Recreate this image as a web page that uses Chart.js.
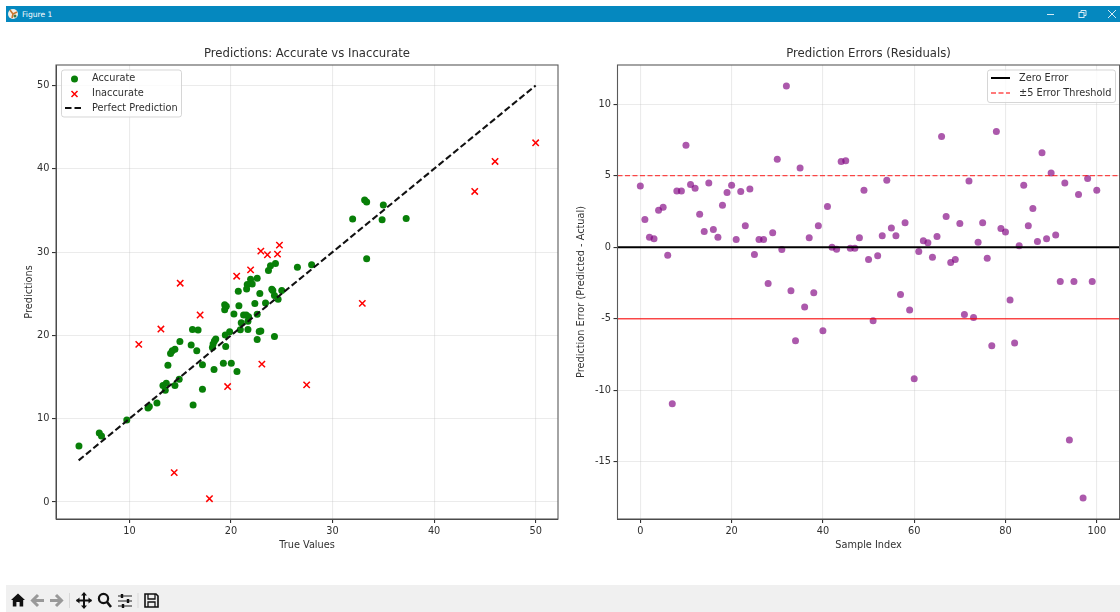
<!DOCTYPE html>
<html>
<head>
<meta charset="utf-8">
<title>Figure 1</title>
<script src="https://cdn.jsdelivr.net/npm/chart.js@4"></script>
<style>
  html, body { margin: 0; padding: 0; background: #fff; width: 1120px; height: 612px; overflow: hidden; font-family: "DejaVu Sans", sans-serif; }
  #titlebar { position: absolute; left: 6px; top: 6px; width: 1114px; height: 16px; background: #0588bf; color: #fff; font-size: 7.6px; line-height: 17px; }
  #titlebar span { position: absolute; left: 16px; }
  #titlebar svg { position: absolute; top: 0; }
  #toolbar { position: absolute; left: 6px; top: 585px; width: 1114px; height: 27px; background: #f0f0f0; }
  #toolbar svg { position: absolute; left: 0; top: 1px; }
  canvas { position: absolute; }
  #left { left: 0; top: 40px; }
  #right { left: 564px; top: 40px; }
</style>
</head>
<body>
<div id="titlebar">
  <svg style="left:1px" width="13" height="16"><circle cx="6" cy="8" r="5" fill="#f4efe6"/><path d="M6 8L3 4M6 8L10 6M6 8L5 12" stroke="#c9762e" stroke-width="1.6"/><circle cx="8" cy="10" r="1.5" fill="#3d7a4a"/></svg>
  <span>Figure 1</span>
  <svg style="left:1040px" width="74" height="16" fill="none" stroke="#d5eaf4" stroke-width="1"><path d="M1 8.5H8"/><rect x="33" y="6.5" width="5" height="5"/><path d="M35 6.5V4.5H40V9.5H38"/><path d="M62 4L70 12M70 4L62 12"/></svg>
</div>
<canvas id="left" width="564" height="515"></canvas>
<canvas id="right" width="556" height="515"></canvas>
<div id="toolbar">
  <svg width="160" height="27">
    <path d="M5 14L12 7.5L19 14L17.2 14L17.2 20.5L13.6 20.5L13.6 16L10.4 16L10.4 20.5L6.8 20.5L6.8 14Z" fill="#111"/>
    <path d="M38 14.5H27M32 9L26.5 14.5L32 20" fill="none" stroke="#999" stroke-width="3"/>
    <path d="M44 14.5H55M50 9L55.5 14.5L50 20" fill="none" stroke="#999" stroke-width="3"/>
    <path d="M63.5 7V22M132 7V22" stroke="#d8d8d8" stroke-width="1"/>
    <path d="M78 7V22M70.5 14.5H85.5" stroke="#111" stroke-width="2"/>
    <path d="M78 6L75 9.5H81ZM78 23L75 19.5H81ZM70 14.5L73.5 11.5V17.5ZM86 14.5L82.5 11.5V17.5Z" fill="#111"/>
    <circle cx="97.5" cy="12.5" r="4.6" fill="none" stroke="#111" stroke-width="2.2"/>
    <path d="M101 16L105 21" stroke="#111" stroke-width="2.6"/>
    <path d="M112 10H126M112 15H126M112 20H126" stroke="#222" stroke-width="1.2"/>
    <path d="M116 8V12M122 13V17M117 18V22" stroke="#111" stroke-width="2.4"/>
    <path d="M139 8H150L152 10V21H139Z" fill="none" stroke="#111" stroke-width="1.6"/>
    <path d="M142 8V13H149V8M142 21V16H149V21" fill="none" stroke="#111" stroke-width="1.3"/>
  </svg>
</div>
<script>
// values
const accurateX = [26.54, 27.94, 24.38, 23.89, 23.69, 22.58, 21.93, 22.09, 21.6, 21.54, 20.72, 22.84, 24.02, 24.12, 25.0, 24.28, 24.64, 23.4, 22.35, 20.78, 19.38, 19.54, 19.38, 20.29, 21.24, 21.5, 21.73, 22.58, 21.01, 21.67, 16.21, 16.76, 19.87, 19.44, 20.92, 21.67, 22.94, 22.78, 22.58, 24.28, 14.97, 16.08, 18.5, 18.37, 18.24, 18.17, 19.48, 16.63, 14.48, 14.22, 14.05, 13.79, 17.19, 19.25, 20.03, 18.33, 20.59, 5.03, 7.03, 7.25, 9.74, 11.83, 11.96, 12.71, 13.53, 13.3, 13.63, 14.48, 14.9, 17.19, 16.27, 31.98, 33.16, 33.36, 35.0, 34.88, 37.25, 33.36];
const accurateY = [28.19, 28.47, 28.63, 28.35, 27.79, 26.87, 26.75, 26.18, 26.1, 25.58, 25.3, 25.02, 25.54, 25.38, 25.38, 24.78, 24.34, 23.9, 23.82, 23.57, 23.69, 23.49, 23.09, 22.57, 22.45, 22.45, 22.25, 22.53, 21.53, 21.69, 20.72, 20.64, 20.44, 20.04, 20.68, 20.72, 20.52, 20.48, 19.52, 19.88, 19.28, 18.84, 19.56, 19.32, 18.96, 18.55, 18.67, 18.15, 18.35, 18.15, 17.83, 16.43, 16.47, 16.67, 16.67, 15.9, 15.66, 6.71, 8.27, 7.91, 9.84, 11.29, 11.45, 11.89, 13.41, 13.98, 14.26, 13.98, 14.74, 13.53, 11.65, 33.96, 36.24, 36, 35.64, 33.88, 34.04, 29.2];
const inaccurateX = [10.92, 13.1, 15, 16.96, 20.56, 21.93, 22.94, 23.59, 24.58, 24.77, 23.04, 14.41, 17.88, 19.67, 27.45, 32.93, 44, 46, 50];
const inaccurateY = [18.92, 20.76, 26.27, 22.45, 27.11, 27.87, 30.12, 29.68, 29.76, 30.84, 16.55, 3.53, 0.4, 13.86, 14.06, 23.84, 37.28, 40.88, 43.12];
const perfectX = [5, 50];
const perfectY = [5, 50];

const residuals = [4.28, 1.93, 0.7, 0.58, 2.58, 2.79, -0.56, -10.94, 3.93, 3.93, 7.12, 4.38, 4.12, 2.3, 1.09, 4.49, 1.23, 0.7, 2.93, 3.82, 4.33, 0.54, 3.89, 1.49, 4.07, -0.51, 0.54, 0.54, -2.54, 1.0, 6.15, -0.16, 11.27, -3.05, -6.54, 5.54, -4.19, 0.65, -3.19, 1.49, -5.84, 2.84, 0, -0.14, 5.98, 6.03, -0.07, -0.07, 0.65, 3.98, -0.86, -5.14, -0.6, 0.79, 4.68, 1.33, 0.79, -3.31, 1.7, -4.4, -9.19, -0.3, 0.44, 0.3, -0.7, 0.74, 7.73, 2.14, -1.07, -0.86, 1.65, -4.7, 4.63, -4.91, 0.35, 1.7, -0.77, -6.89, 8.08, 1.3, 1.05, -3.7, -6.7, 0.09, 4.33, 1.49, 2.7, 0.4, 6.59, 0.58, 5.19, 0.84, -2.4, 4.49, -13.48, -2.4, 3.68, -17.53, 4.8, -2.4, 3.98];
const residualRange = [-5, 105];
const zeroLine = [0, 0];
const upperLine = [5, 5];
const lowerLine = [-5, -5];

const FONT = '"DejaVu Sans", sans-serif';
const LABEL_SIZE = 9.75;
const zip = (xs, ys) => xs.map((x, i) => ({ x: x, y: ys[i] }));
const GRID = 'rgba(176,176,176,0.26)';
const INK = '#303030';

// title over the plot area, frame and the matplotlib style legend box
function legendPlugin(title, box, items) {
  return {
    id: 'frameLegend',
    afterDraw(chart) {
      const c = chart.ctx, a = chart.chartArea;
      const ox = chart.canvas.offsetLeft, oy = chart.canvas.offsetTop;
      c.save();
      c.strokeStyle = '#5a5a5a';
      c.lineWidth = 1.1;
      c.strokeRect(a.left, a.top, a.right - a.left, a.bottom - a.top);

      c.fillStyle = INK;
      c.font = '11.7px ' + FONT;
      c.textAlign = 'center';
      c.textBaseline = 'middle';
      c.fillText(title, (a.left + a.right) / 2, 14);
      c.textAlign = 'left';

      c.beginPath();
      c.roundRect(box.x - ox, box.y - oy, box.w, box.h, 2.5);
      c.fillStyle = 'rgba(255,255,255,0.8)';
      c.fill();
      c.strokeStyle = 'rgba(204,204,204,0.8)';
      c.lineWidth = 1;
      c.stroke();

      c.font = LABEL_SIZE + 'px ' + FONT;
      items.forEach((it, i) => {
        const y = box.y - oy + 8 + i * 15;
        const x0 = box.x - ox + 3.5, x1 = x0 + 19;
        c.fillStyle = INK;
        c.fillText(it.label, box.x - ox + box.tx, y);
        if (it.kind === 'dot') {
          c.fillStyle = it.color;
          c.beginPath();
          c.arc((x0 + x1) / 2, y + 1, 3.5, 0, Math.PI * 2);
          c.fill();
        } else if (it.kind === 'cross') {
          const m = (x0 + x1) / 2;
          c.strokeStyle = it.color;
          c.lineWidth = 1.5;
          c.beginPath();
          c.moveTo(m - 3, y - 2); c.lineTo(m + 3, y + 4);
          c.moveTo(m + 3, y - 2); c.lineTo(m - 3, y + 4);
          c.stroke();
        } else {
          c.strokeStyle = it.color;
          c.lineWidth = it.width;
          c.setLineDash(it.dash || []);
          c.beginPath();
          c.moveTo(x0, y); c.lineTo(x1, y);
          c.stroke();
          c.setLineDash([]);
        }
      });
      c.restore();
    }
  };
}

function axes(o) {
  const tickStyle = { color: INK, font: { family: FONT, size: LABEL_SIZE }, padding: 2.5, includeBounds: false, maxRotation: 0, autoSkip: false };
  const gridStyle = { color: GRID, lineWidth: 1.1, tickColor: '#333', tickLength: 4, drawTicks: true };
  return {
    x: {
      type: 'linear', min: o.x[0], max: o.x[1],
      ticks: Object.assign({ stepSize: o.x[2] }, tickStyle),
      grid: gridStyle, border: { color: '#3a3a3a' },
      title: { display: true, text: o.xTitle, color: INK, font: { family: FONT, size: LABEL_SIZE }, padding: { top: 0, bottom: 4 } },
      afterFit(s) { s.height = 36; }
    },
    y: {
      min: o.y[0], max: o.y[1],
      ticks: Object.assign({ stepSize: o.y[2] }, tickStyle),
      grid: gridStyle, border: { color: '#3a3a3a' },
      title: { display: true, text: o.yTitle, color: INK, font: { family: FONT, size: LABEL_SIZE }, padding: { top: o.yPad, bottom: 0 } },
      afterFit(s) { s.width = o.yWidth; }
    }
  };
}

const plainPlugins = { legend: { display: false }, tooltip: { enabled: false }, title: { display: false } };

new Chart(document.getElementById('left'), {
  type: 'scatter',
  data: {
    datasets: [
      { label: 'Perfect Prediction', type: 'line', data: zip(perfectX, perfectY), borderColor: '#111', borderWidth: 2.1, borderDash: [6.5, 3], pointRadius: 0, fill: false, order: 0 },
      { label: 'Inaccurate', data: zip(inaccurateX, inaccurateY), pointStyle: 'crossRot', pointRadius: 4.5, borderColor: '#ff0000', borderWidth: 1.5, backgroundColor: 'transparent', order: 1 },
      { label: 'Accurate', data: zip(accurateX, accurateY), pointRadius: 3.5, borderWidth: 0, backgroundColor: '#087f08', order: 2 }
    ]
  },
  options: {
    responsive: false, animation: false,
    layout: { autoPadding: false, padding: { left: 0, right: 6, top: 25, bottom: 0 } },
    plugins: plainPlugins,
    scales: axes({ x: [2.77, 52.2, 10], y: [-2.04, 52.46, 10], xTitle: 'True Values', yTitle: 'Predictions', yPad: 23.5, yWidth: 56 })
  },
  plugins: [legendPlugin('Predictions: Accurate vs Inaccurate', { x: 61.5, y: 70, w: 120, h: 47, tx: 30.5 }, [
    { label: 'Accurate', kind: 'dot', color: '#087f08' },
    { label: 'Inaccurate', kind: 'cross', color: '#ff0000' },
    { label: 'Perfect Prediction', kind: 'line', color: '#111', width: 2.1, dash: [6.5, 3] }
  ])]
});

new Chart(document.getElementById('right'), {
  type: 'scatter',
  data: {
    datasets: [
      { label: 'Zero Error', type: 'line', data: zip(residualRange, zeroLine), borderColor: '#000', borderWidth: 2, pointRadius: 0, order: 0 },
      { label: '±5 Error Threshold', type: 'line', data: zip(residualRange, upperLine), borderColor: 'rgba(255,0,0,0.7)', borderWidth: 1.4, borderDash: [5, 2.5], pointRadius: 0, order: 0 },
      { label: 'lower', type: 'line', data: zip(residualRange, lowerLine), borderColor: 'rgba(255,0,0,0.7)', borderWidth: 1.4, pointRadius: 0, order: 0 },
      { label: 'Residuals', data: residuals.map((y, i) => ({ x: i, y: y })), pointRadius: 3.5, borderWidth: 0, backgroundColor: 'rgba(128,0,128,0.65)', order: 1 }
    ]
  },
  options: {
    responsive: false, animation: false,
    layout: { autoPadding: false, padding: { left: 0, right: 0.4, top: 25, bottom: 0 } },
    plugins: plainPlugins,
    scales: axes({ x: [-5, 105, 20], y: [-19, 12.73, 5], xTitle: 'Sample Index', yTitle: 'Prediction Error (Predicted - Actual)', yPad: 11.5, yWidth: 53.5 })
  },
  plugins: [legendPlugin('Prediction Errors (Residuals)', { x: 987.5, y: 70, w: 128, h: 32.5, tx: 31.5 }, [
    { label: 'Zero Error', kind: 'line', color: '#000', width: 2 },
    { label: '±5 Error Threshold', kind: 'line', color: 'rgba(255,0,0,0.7)', width: 1.4, dash: [5, 2.5] }
  ])]
});
</script>
</body>
</html>
